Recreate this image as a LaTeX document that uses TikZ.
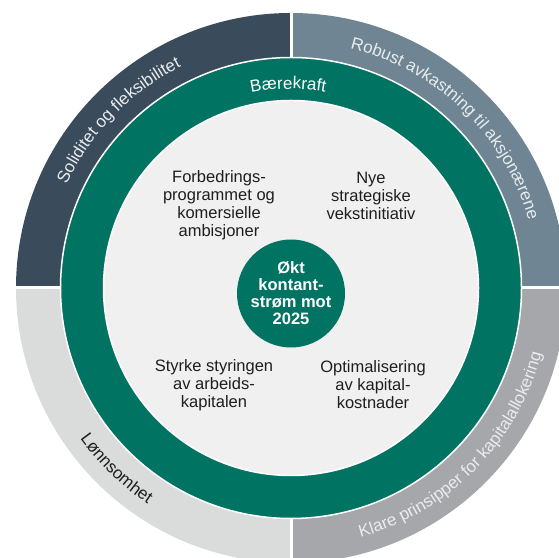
\documentclass[tikz,border=0pt]{standalone}
\usepackage{xcolor}
\usepackage{fontspec}
\setmainfont{Liberation Sans}
\usetikzlibrary{
    decorations.text,
    positioning,
}
\definecolor{navyRing}{HTML}{3A4B5C}
\definecolor{steelRing}{HTML}{6F8593}
\definecolor{greyRing}{HTML}{A6A7AA}
\definecolor{paleRing}{HTML}{DADBDB}
\definecolor{greenRing}{HTML}{007363}
\definecolor{coreGrey}{HTML}{F0F0F0}
\definecolor{inkText}{HTML}{1E1E1E}
\definecolor{lightText}{HTML}{E9ECEE}
\newcommand{\ringfont}{\fontsize{17bp}{20bp}\selectfont}

\begin{document}
\begin{tikzpicture}[x=1bp,y=1bp]

    \tikzstyle{commonNode}=[align=center, inner sep=0pt]
    \tikzstyle{pillar}=[commonNode, text=inkText, font=\fontsize{16.5bp}{18bp}\selectfont]
    \tikzstyle{hubNode}=[commonNode, circle, fill=greenRing, text=white, minimum size=108bp, font=\fontsize{16.5bp}{17bp}\selectfont\bfseries]
    \tikzstyle{disc}=[circle, draw=white, line width=1.5bp, inner sep=0pt]
    \tikzstyle{gap}=[white, line width=3bp]

    \useasboundingbox (0,0) rectangle (559,558);
    \clip (0,0) rectangle (559,558);

    \begin{scope}
        % Centre and radii
        \def \cx {291}
        \def \cy {270}
        \def \router {275}
        \coordinate (C) at (\cx,\cy);

        % Outer quadrants
        \fill[navyRing]  (C) -- ++(90:\router)  arc[start angle=90,  end angle=180, radius=\router] -- cycle;
        \fill[steelRing] (C) -- ++(0:\router)   arc[start angle=0,   end angle=90,  radius=\router] -- cycle;
        \fill[greyRing]  (C) -- ++(-90:\router) arc[start angle=-90, end angle=0,   radius=\router] -- cycle;
        \fill[paleRing]  (C) -- ++(180:\router) arc[start angle=180, end angle=270, radius=\router] -- cycle;

        % White gaps
        \coordinate (gapN) at (\cx,\cy+\router);
        \coordinate (gapS) at (\cx,\cy-\router);
        \coordinate (gapE) at (\cx+\router,\cy);
        \coordinate (gapW) at (\cx-\router,\cy);
        \draw[gap] (gapN) -- (gapS);
        \draw[gap] (gapW) -- (gapE);

        % Green ring and core
        \node[disc, fill=greenRing, minimum size=461bp] (ring) at (C) {};
        \node[disc, fill=coreGrey, minimum size=375bp] (core) at (C) {};
        \node[hubNode] (hub) at (\cx,264.5) {Økt\\kontant-\\strøm mot\\2025};

        % Four levers
        \node[pillar] (FP) at (219,353) {Forbedrings-\\programmet og\\komersielle\\ambisjoner};
        \node[pillar] (NS) at (371,362) {Nye\\strategiske\\vekstinitiativ};
        \node[pillar] (SS) at (214,173) {Styrke styringen\\av arbeids-\\kapitalen};
        \node[pillar] (OK) at (373,173) {Optimalisering\\av kapital-\\kostnader};

        % Curved labels
        \path[decorate, decoration={text along path, text align=center,
            text={|\ringfont\color{white}|Bærekraft}}]
            ([shift={(150.8:199)}]C) arc[start angle=150.8, end angle=30.8, radius=199];
        \path[decorate, decoration={text along path, text align=center,
            text={|\ringfont\color{lightText}|Soliditet og fleksibilitet}}]
            ([shift={(205.8:247)}]C) arc[start angle=205.8, end angle=65.8, radius=247];
        \path[decorate, decoration={text along path, text align=center,
            text={|\ringfont\color{lightText}|Robust avkastning til aksjonærene}}]
            ([shift={(116:247)}]C) arc[start angle=116, end angle=-24, radius=247];
        \path[decorate, decoration={text along path, text align=center,
            text={|\ringfont\color{lightText}|Klare prinsipper for kapitalallokering}}]
            ([shift={(-114.5:259)}]C) arc[start angle=-114.5, end angle=25.5, radius=259];
        \path[decorate, decoration={text along path, text align=center,
            text={|\ringfont\color{inkText}|Lønnsomhet}}]
            ([shift={(-204:259)}]C) arc[start angle=-204, end angle=-64, radius=259];
    \end{scope}

\end{tikzpicture}
\end{document}
